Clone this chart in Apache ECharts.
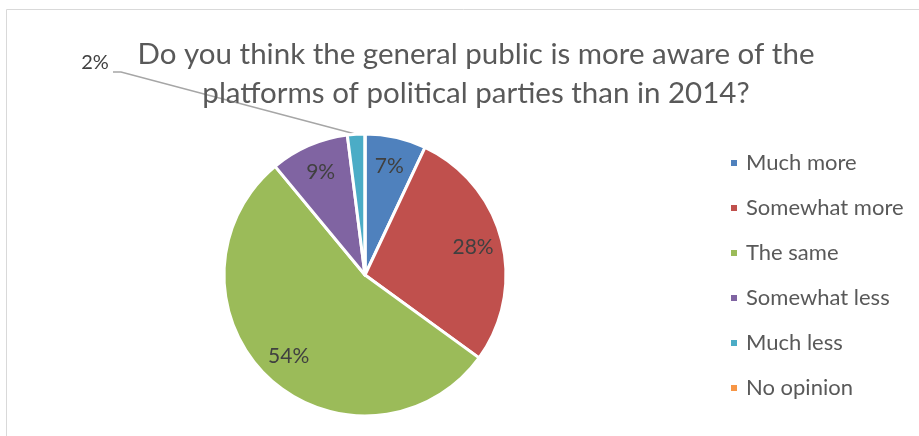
<!DOCTYPE html>
<html>
<head>
<meta charset="utf-8">
<script src="https://cdn.jsdelivr.net/npm/echarts@6/dist/echarts.min.js"></script>
<style>
  html, body { margin: 0; padding: 0; background: #fff; }
  #chart { width: 919px; height: 436px; }
</style>
</head>
<body>
<div id="chart"></div>
<script>
// Survey answers and their shares (percent)
const categories = ['Much more', 'Somewhat more', 'The same', 'Somewhat less', 'Much less', 'No opinion'];
const shares = [7, 28, 54, 9, 2, 0];
const colors = ['#4F81BD', '#C0504D', '#9BBB59', '#8064A2', '#4BACC6', '#F79646'];
const titleText = 'Do you think the general public is more aware of the\nplatforms of political parties than in 2014?';

const FONT = 'Lato, "Open Sans", sans-serif';
const CENTER = [365, 275];
const R = 141;

// The small slice gets an outside label with a leader line to the upper left
const SMALL_INDEX = 4;

const chart = echarts.init(document.getElementById('chart'), null, { renderer: 'canvas' });

const pieData = categories.map((name, i) => ({
  name: name,
  value: shares[i],
  itemStyle: { color: colors[i] },
  label: { show: i === SMALL_INDEX },
  labelLine: { show: i === SMALL_INDEX }
}));

const labelData = categories.map((name, i) => ({
  name: name,
  value: shares[i],
  label: { show: shares[i] > 0 && i !== SMALL_INDEX }
}));

chart.setOption({
  animation: false,
  graphic: [{
    type: 'rect',
    shape: { x: 6.5, y: 9.5, width: 1000, height: 600 },
    style: { fill: 'none', stroke: '#D9D9D9', lineWidth: 1 },
    silent: true
  }],
  title: {
    text: titleText,
    left: 471,
    top: 30,
    textAlign: 'center',
    textStyle: {
      fontFamily: FONT,
      fontSize: 29.5,
      fontWeight: 'normal',
      color: '#595959',
      lineHeight: 39
    }
  },
  legend: {
    orient: 'vertical',
    left: 724,
    top: 147,
    itemWidth: 8,
    itemHeight: 8,
    itemGap: 23,
    icon: 'rect',
    data: categories,
    textStyle: { fontFamily: FONT, fontSize: 22, color: '#595959', padding: [0, 0, 0, 3] }
  },
  series: [
    {
      type: 'pie',
      name: 'shares',
      center: CENTER,
      radius: [0, R],
      startAngle: 90,
      clockwise: true,
      avoidLabelOverlap: false,
      itemStyle: { borderColor: '#fff', borderWidth: 3 },
      label: {
        position: 'outside',
        formatter: '{c}%',
        fontFamily: FONT,
        fontSize: 20,
        color: '#404040'
      },
      labelLine: { lineStyle: { color: '#A6A6A6', width: 1.5 } },
      labelLayout: function (p) {
        if (p.dataIndex !== SMALL_INDEX || !p.labelLinePoints) return {};
        const start = p.labelLinePoints[0];
        return {
          x: 95,
          y: 63,
          align: 'center',
          verticalAlign: 'middle',
          labelLinePoints: [start, [121, 72], [113, 72]]
        };
      },
      emphasis: { disabled: true },
      data: pieData
    },
    {
      // transparent ring that carries the in-slice percentage labels
      type: 'pie',
      name: 'labels',
      center: CENTER,
      radius: [R * 0.54, R],
      startAngle: 90,
      clockwise: true,
      silent: true,
      avoidLabelOverlap: false,
      itemStyle: { color: 'rgba(0,0,0,0)', borderWidth: 0 },
      label: {
        position: 'inside',
        formatter: '{c}%',
        fontFamily: FONT,
        fontSize: 21,
        color: '#404040'
      },
      labelLine: { show: false },
      emphasis: { disabled: true },
      data: labelData
    }
  ]
});
</script>
</body>
</html>
